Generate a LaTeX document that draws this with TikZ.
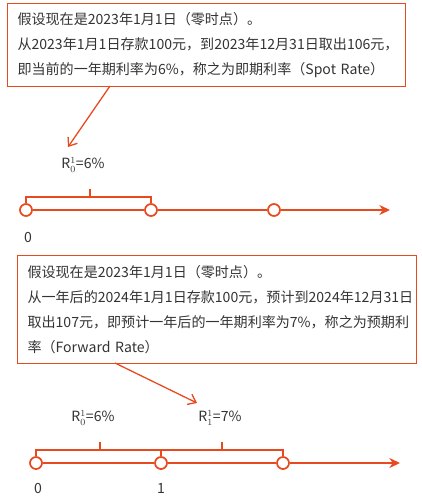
\documentclass[tikz,border=0pt]{standalone}
\usepackage{fontspec}
\setmainfont{Noto Sans CJK SC}
\usepackage{xcolor}
\usetikzlibrary{arrows.meta}
\usetikzlibrary{positioning}
\usetikzlibrary{calc}
\usetikzlibrary{math}

\definecolor{linecol}{HTML}{E84A1F}
\definecolor{txtcol}{HTML}{333333}

\begin{document}
\begin{tikzpicture}[x=0.03cm,y=-0.03cm,
    txtbox/.style={draw=linecol, line width=0.9pt, anchor=north west, align=left,
      inner xsep=0.3cm, text=txtcol, font=\fontsize{12}{21.5}\selectfont},
    tl/.style={draw=linecol, line width=1.5pt},
    pin/.style={draw=linecol, line width=1.5pt, fill=white, circle,
      minimum size=0.36cm, inner sep=0pt},
    callout/.style={draw=linecol, line width=1.1pt, -{Straight Barb[length=2.2mm,width=3.4mm]}},
    rate/.style={text=txtcol, font=\fontsize{12}{14}\selectfont},
    tick/.style={text=txtcol, font=\fontsize{12}{14}\selectfont}]

  \tikzmath{
    \ya = 210; % height of first time line
    \yb = 463; % height of second time line
    \br = 13;  % height of the brackets above the line
    \tk = 8;   % length of the bracket tick
  }

  \useasboundingbox (0,0) rectangle (422,500);

  % Spot rate text
  \node[txtbox, text width=11.34cm, minimum height=2.49cm] (spot) at (7,3)
  {假设现在是2023年1月1日（零时点）。\\
   从2023年1月1日存款100元，到2023年12月31日取出106元，\\
   即当前的一年期利率为6\%，称之为即期利率（Spot Rate）};

  % first time line
  \node[pin] (a0) at (26,\ya) {};
  \node[pin] (a1) at (151,\ya) {};
  \node[pin] (a2) at (274,\ya) {};
  \coordinate (aend) at (390,\ya);
  \draw[tl, -{Stealth[length=3.2mm,width=3mm]}] (a0) -- (a1) -- (a2) -- (aend);

  % bracket with tick
  \coordinate (am) at ($(a0)!0.51!(a1) + (0,-\br)$);
  \draw[tl] (a0.north) |- (am) -| (a1.north)
            (am) -- ++(0,-\tk);

  \node[rate] (ra) at (83,165) {R$_0^1$=6\%};
  \node[tick] (za) at (28,237) {0};

  \coordinate (ca) at (110,86);
  \coordinate (cb) at (68,147);
  \draw[callout] (ca) -- (cb);

  % Forward rate text
  \node[txtbox, text width=11.37cm, minimum height=3.24cm] (fwd) at (17,255)
  {假设现在是2023年1月1日（零时点）。\\
   从一年后的2024年1月1日存款100元，预计到2024年12月31日\\
   取出107元，即预计一年后的一年期利率为7\%，称之为预期利\\
   率（Forward Rate）};

  % second time line
  \node[pin] (b0) at (36,\yb) {};
  \node[pin] (b1) at (161,\yb) {};
  \node[pin] (b2) at (283,\yb) {};
  \coordinate (bend) at (400,\yb);
  \draw[tl, -{Stealth[length=3.2mm,width=3mm]}] (b0) -- (b1) -- (b2) -- (bend);

  % brackets with ticks
  \coordinate (bm) at ($(b0)!0.51!(b1) + (0,-\br)$);
  \coordinate (bn) at ($(b1)!0.5!(b2) + (0,-\br)$);
  \draw[tl] (b0.north) |- (bm) -| (b1.north)
            (bm) -- ++(0,-\tk);
  \draw[tl] (b1.north) |- (bn) -| (b2.north)
            (bn) -- ++(0,-\tk);

  \node[rate] (rb) at (93,418) {R$_0^1$=6\%};
  \node[rate] (rc) at (220,418) {R$_1^1$=7\%};
  \node[tick] (zb) at (38,488) {0};
  \node[tick] (ob) at (161,488) {1};

  \coordinate (cc) at (115,363);
  \coordinate (cd) at (197,403);
  \draw[callout] (cc) -- (cd);

\end{tikzpicture}
\end{document}
